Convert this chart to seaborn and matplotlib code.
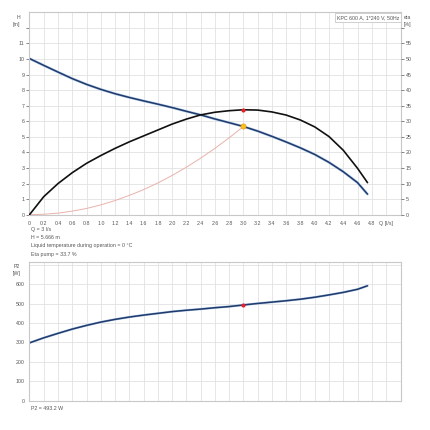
import numpy as np
import pandas as pd
import matplotlib
matplotlib.use("Agg")
import matplotlib.pyplot as plt
import seaborn as sns

# pump curve values (every 0.2 l/s)
q_pump = [0.0, 0.2, 0.4, 0.6, 0.8, 1.0, 1.2, 1.4, 1.6, 1.8, 2.0, 2.2, 2.4,
          2.6, 2.8, 3.0, 3.2, 3.4, 3.6, 3.8, 4.0, 4.2, 4.4, 4.6, 4.74]
h_pump = [10.03, 9.59, 9.16, 8.74, 8.37, 8.05, 7.77, 7.53, 7.31, 7.1, 6.88, 6.64, 6.41,
          6.15, 5.91, 5.666, 5.37, 5.03, 4.67, 4.29, 3.87, 3.36, 2.76, 2.06, 1.32]
eta_pump = [0.0, 5.8, 10.0, 13.5, 16.5, 19.0, 21.3, 23.4, 25.3, 27.2, 29.1, 30.7, 32.05,
            32.9, 33.4, 33.7, 33.6, 33.0, 32.0, 30.4, 28.2, 25.1, 20.7, 14.9, 10.3]
p2_pump = [298, 324, 347, 369, 388, 405, 419, 431, 441, 450, 459, 466, 472,
           479, 485, 493.2, 501, 508, 515, 523, 533, 545, 558, 574, 592]

q_system = [0.0, 0.2, 0.4, 0.6, 0.8, 1.0, 1.2, 1.4, 1.6, 1.8, 2.0, 2.2, 2.4, 2.6, 2.8, 3.0]
h_system = [0.0, 0.03, 0.1, 0.23, 0.4, 0.63, 0.91, 1.24, 1.61, 2.04, 2.52, 3.05, 3.63, 4.26, 4.94, 5.666]

q_duty = 3.0
h_duty = 5.666
eta_duty = 33.7
p2_duty = 493.2

x_ticks = [round(0.2 * i, 1) for i in range(25)]
info_lines = ["Q = 3 l/s", "H = 5.666 m",
              "Liquid temperature during operation = 0 °C", "Eta pump = 33.7 %"]
legend_text = "KPC 600 A, 1*240 V, 50Hz"

df = pd.DataFrame({"Q": q_pump, "H": h_pump, "eta": eta_pump, "P2": p2_pump})
df_sys = pd.DataFrame({"Q": q_system, "H": h_system})

sns.set_style("white")
plt.rcParams["font.family"] = ["Liberation Sans", "DejaVu Sans"]

navy = "#1f3a6b"
halo = "#b4cdea"
grid_c = "#e2e2e2"
frame_c = "#c8c8c8"
txt_c = "#555555"
fs = 3.8

fig = plt.figure(figsize=(4.3, 4.3), dpi=100)
ax = fig.add_axes([0.0686, 0.5007, 0.864, 0.4707])
ax2 = ax.twinx()
axb = fig.add_axes([0.0686, 0.0681, 0.864, 0.3219])

x_max = 5.21

for a in (ax, axb):
    a.set_xlim(0, x_max)
    a.set_xticks(np.arange(0, 5.01, 0.2))
    a.grid(True, color=grid_c, lw=0.6)
    a.set_axisbelow(True)
    for s in a.spines.values():
        s.set_color(frame_c)
        s.set_linewidth(0.8)

# ---- top chart: H and eta
ax.set_ylim(0, 13)
ax.set_yticks(range(0, 13))
ax.set_yticklabels([str(i) for i in range(12)] + [""])
ax.set_xticklabels([f"{t:.1f}" if t > 0 else "0" for t in x_ticks] + ["Q [l/s]"])
ax.tick_params(axis="both", labelsize=fs, colors=txt_c, length=2, width=0.5, pad=1.5)
ax.tick_params(axis="x", pad=2.5)

ax2.set_ylim(0, 65)
ax2.set_yticks(range(0, 61, 5))
ax2.set_yticklabels([str(i) for i in range(0, 56, 5)] + [""])
ax2.tick_params(axis="y", labelsize=fs, colors=txt_c, length=2, width=0.5, pad=1.5)
for s in ax2.spines.values():
    s.set_visible(False)

sns.lineplot(data=df_sys, x="Q", y="H", ax=ax, color="#e9b2aa", lw=0.7)
sns.lineplot(data=df, x="Q", y="H", ax=ax, color=halo, lw=1.9)
sns.lineplot(data=df, x="Q", y="H", ax=ax, color=navy, lw=1.1)
sns.lineplot(data=df, x="Q", y="eta", ax=ax2, color="#111111", lw=1.2)
ax.set_xlabel("")
ax.set_ylabel("")
ax2.set_ylabel("")

ax2.scatter([q_duty], [eta_duty], s=9, color="#e8202a", zorder=5, lw=0)
ax.scatter([q_duty], [h_duty], s=14, color="#f7c21a", edgecolor="#e89a10", lw=0.5, zorder=5)

ax.text(-0.025, 0.985, "H\n[m]", transform=ax.transAxes, ha="right", va="top",
        fontsize=fs, color=txt_c, linespacing=1.3)
ax.text(1.008, 0.985, "eta\n[%]", transform=ax.transAxes, ha="left", va="top",
        fontsize=fs, color=txt_c, linespacing=1.3)
ax.text(0.995, 0.985, legend_text, transform=ax.transAxes, ha="right", va="top",
        fontsize=fs, color=txt_c, zorder=6,
        bbox=dict(boxstyle="square,pad=0.4", fc="white", ec=frame_c, lw=0.6))

for i, line in enumerate(info_lines):
    fig.text(0.071, 0.467 - i * 0.0195, line, fontsize=fs, color=txt_c, va="center")

# ---- bottom chart: P2
axb.set_ylim(0, 713)
axb.set_yticks(range(0, 701, 100))
axb.set_yticklabels([str(i) for i in range(0, 601, 100)] + [""])
axb.set_xticklabels([])
axb.tick_params(axis="y", labelsize=fs, colors=txt_c, length=2, width=0.5, pad=1.5)
axb.tick_params(axis="x", length=0)
sns.lineplot(data=df, x="Q", y="P2", ax=axb, color=halo, lw=1.7)
sns.lineplot(data=df, x="Q", y="P2", ax=axb, color=navy, lw=1.1)
axb.set_xlabel("")
axb.set_ylabel("")
axb.scatter([q_duty], [p2_duty], s=9, color="#e8202a", zorder=5, lw=0)
axb.text(-0.025, 0.985, "P2\n[W]", transform=axb.transAxes, ha="right", va="top",
         fontsize=fs, color=txt_c, linespacing=1.3)
fig.text(0.071, 0.049, f"P2 = {p2_duty} W", fontsize=fs, color=txt_c, va="center")

fig.savefig("out.png", dpi=100, facecolor="white")
